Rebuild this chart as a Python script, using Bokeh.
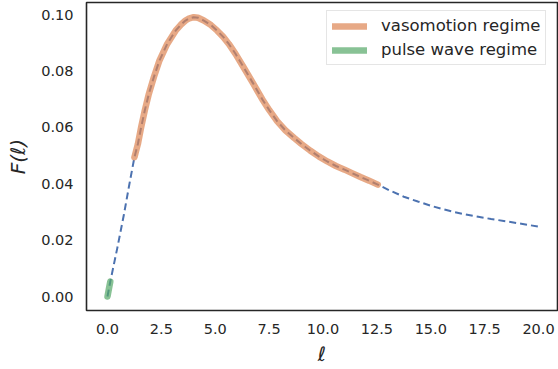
import numpy as np
from bokeh.plotting import figure
from bokeh.models import Range1d, FixedTicker, PrintfTickFormatter, Legend, LegendItem
from bokeh.embed import file_html
from bokeh.resources import INLINE

# ---- data ----
ell = [0.0, 0.07, 0.13, 0.45, 0.76, 1.0, 1.25, 1.41, 1.56, 1.73, 1.92, 2.15, 2.41,
       2.77, 3.16, 3.4, 3.62, 3.8, 4.0, 4.2, 4.47, 4.8, 5.09, 5.37, 5.63, 5.94, 6.3,
       6.75, 7.18, 7.5, 7.87, 8.25, 8.65, 9.0, 9.4, 9.8, 10.2, 10.6, 11.0, 11.37,
       11.74, 12.14, 12.54, 13.1, 13.75, 14.4, 15.0, 15.5, 16.07, 16.6, 17.2, 17.8,
       18.39, 19.2, 20.0]
F = [0.0, 0.0029, 0.0053, 0.0170, 0.0290, 0.0392, 0.0494, 0.0541, 0.0600, 0.0660,
     0.0719, 0.0778, 0.0837, 0.0896, 0.0943, 0.0964, 0.0979, 0.0987, 0.0991, 0.0989,
     0.0979, 0.0963, 0.0943, 0.0921, 0.0896, 0.0861, 0.0815, 0.0757, 0.0700, 0.0662,
     0.0622, 0.0590, 0.0563, 0.0541, 0.0518, 0.0497, 0.0479, 0.0463, 0.0450, 0.0437,
     0.0424, 0.0411, 0.0397, 0.0376, 0.0354, 0.0337, 0.0322, 0.0311, 0.0300, 0.0291,
     0.0283, 0.0275, 0.0268, 0.0258, 0.0248]
vaso_range = [1.25, 12.54]
pulse_range = [0.0, 0.13]
x_ticks = [0.0, 2.5, 5.0, 7.5, 10.0, 12.5, 15.0, 17.5, 20.0]
y_ticks = [0.00, 0.02, 0.04, 0.06, 0.08, 0.10]
legend_labels = ["vasomotion regime", "pulse wave regime"]

ell_a = np.array(ell)
F_a = np.array(F)
m_v = (ell_a >= vaso_range[0]) & (ell_a <= vaso_range[1])
m_p = (ell_a >= pulse_range[0]) & (ell_a <= pulse_range[1])

TXT = "#262626"
FONT = "DejaVu Sans"

p = figure(width=558, height=369, output_backend="svg", toolbar_location=None,
           x_range=Range1d(-0.974, 20.88), y_range=Range1d(-0.00496, 0.1043),
           min_border_left=86, min_border_right=1, min_border_top=2, min_border_bottom=59)
p.grid.visible = False
p.outline_line_color = TXT
p.outline_line_width = 1.6

full = p.line(ell, F, line_color="#4C72B0", line_width=2, line_dash="7 4")
vaso = p.line(list(ell_a[m_v]), list(F_a[m_v]), line_color="#DD8452", line_width=6.5,
              line_alpha=0.7, line_cap="round", line_join="round")
pulse = p.line(list(ell_a[m_p]), list(F_a[m_p]), line_color="#55A868", line_width=6.5,
               line_alpha=0.7, line_cap="round", line_join="round")

for ax in (p.xaxis[0], p.yaxis[0]):
    ax.axis_line_color = None
    ax.major_tick_line_color = None
    ax.minor_tick_line_color = None
    ax.major_tick_out = 0
    ax.major_tick_in = 0
    ax.minor_tick_out = 0
    ax.major_label_text_font = FONT
    ax.major_label_text_font_size = "14.5px"
    ax.major_label_text_color = TXT
    ax.axis_label_text_font = FONT
    ax.axis_label_text_font_size = "20px"
    ax.axis_label_text_font_style = "italic"
    ax.axis_label_text_color = TXT

p.xaxis.ticker = FixedTicker(ticks=x_ticks)
p.xaxis.formatter = PrintfTickFormatter(format="%.1f")
p.yaxis.ticker = FixedTicker(ticks=y_ticks)
p.yaxis.formatter = PrintfTickFormatter(format="%.2f")
p.xaxis.axis_label = "ℓ"
p.yaxis.axis_label = "F(ℓ)"
p.xaxis.major_label_standoff = 13
p.yaxis.major_label_standoff = 13
p.xaxis.axis_label_standoff = 5
p.yaxis.axis_label_standoff = 8

legend = Legend(items=[LegendItem(label=legend_labels[0], renderers=[vaso]),
                       LegendItem(label=legend_labels[1], renderers=[pulse])],
                location=(240, 245))
legend.label_text_font = FONT
legend.label_text_font_size = "16.5px"
legend.label_text_color = TXT
legend.glyph_width = 35
legend.glyph_height = 18
legend.label_standoff = 14
legend.padding = 5
legend.spacing = 5
legend.margin = 0
legend.border_line_color = "#cccccc"
legend.border_line_width = 1
legend.background_fill_color = "white"
legend.background_fill_alpha = 0.8
p.add_layout(legend, "center")

open("out.html", "w").write(file_html(p, INLINE))
